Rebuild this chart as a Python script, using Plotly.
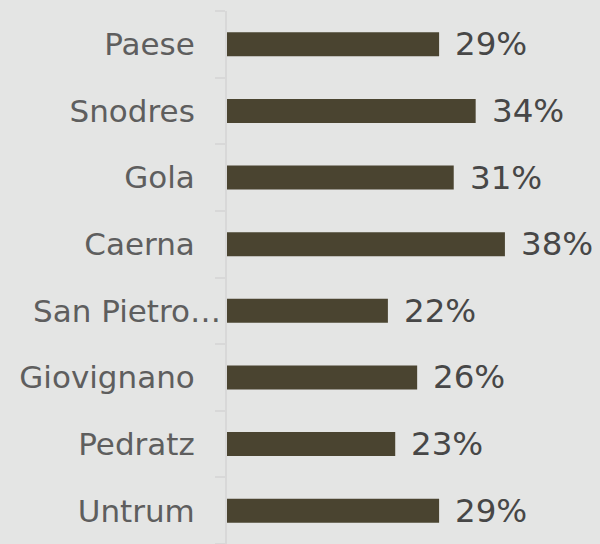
import plotly.graph_objects as go

categories = ["Paese", "Snodres", "Gola", "Caerna", "San Pietro…", "Giovignano", "Pedratz", "Untrum"]
values = [29, 34, 31, 38, 22, 26, 23, 29]
value_labels = ["29%", "34%", "31%", "38%", "22%", "26%", "23%", "29%"]
truncated = "San Pietro…"  # truncated label drawn flush against the axis

fig = go.Figure()
fig.add_trace(go.Bar(
    y=categories, x=values, orientation="h",
    marker=dict(color="#4a4430", line=dict(width=0)),
    width=0.36, hoverinfo="skip",
))
for c, v, t in zip(categories, values, value_labels):
    fig.add_annotation(x=v, y=c, text=t, showarrow=False, xanchor="left",
                       xshift=14, yshift=0,
                       font=dict(family="DejaVu Sans", size=32.5, color="#474747"))

fig.add_annotation(x=0, xref="paper", y=truncated, yref="y", text=truncated,
                   showarrow=False, xanchor="right", xshift=-4,
                   font=dict(family="DejaVu Sans", size=31, color="#5e5e5e"))

fig.update_layout(
    width=600, height=544,
    margin=dict(l=227, r=0, t=11, b=0),
    paper_bgcolor="#e4e5e4", plot_bgcolor="#e4e5e4",
    showlegend=False,
    font=dict(family="DejaVu Sans", size=31, color="#5e5e5e"),
)
fig.update_xaxes(range=[0, 51], visible=False, showgrid=False, zeroline=False)
fig.update_yaxes(
    autorange="reversed", showgrid=False, zeroline=False,
    showline=True, linecolor="#d8d8d8", linewidth=2,
    ticks="outside", tickson="boundaries", ticklen=10, tickcolor="#d8d8d8", tickwidth=2,
    ticklabelstandoff=24,
    tickmode="array", tickvals=categories,
    ticktext=["" if c == truncated else c for c in categories],
    tickfont=dict(family="DejaVu Sans", size=31, color="#5e5e5e"),
)
fig.write_html("out.html", config={"displayModeBar": False},
               post_script="document.body.style.margin='0';document.body.style.background='#e4e5e4';")
